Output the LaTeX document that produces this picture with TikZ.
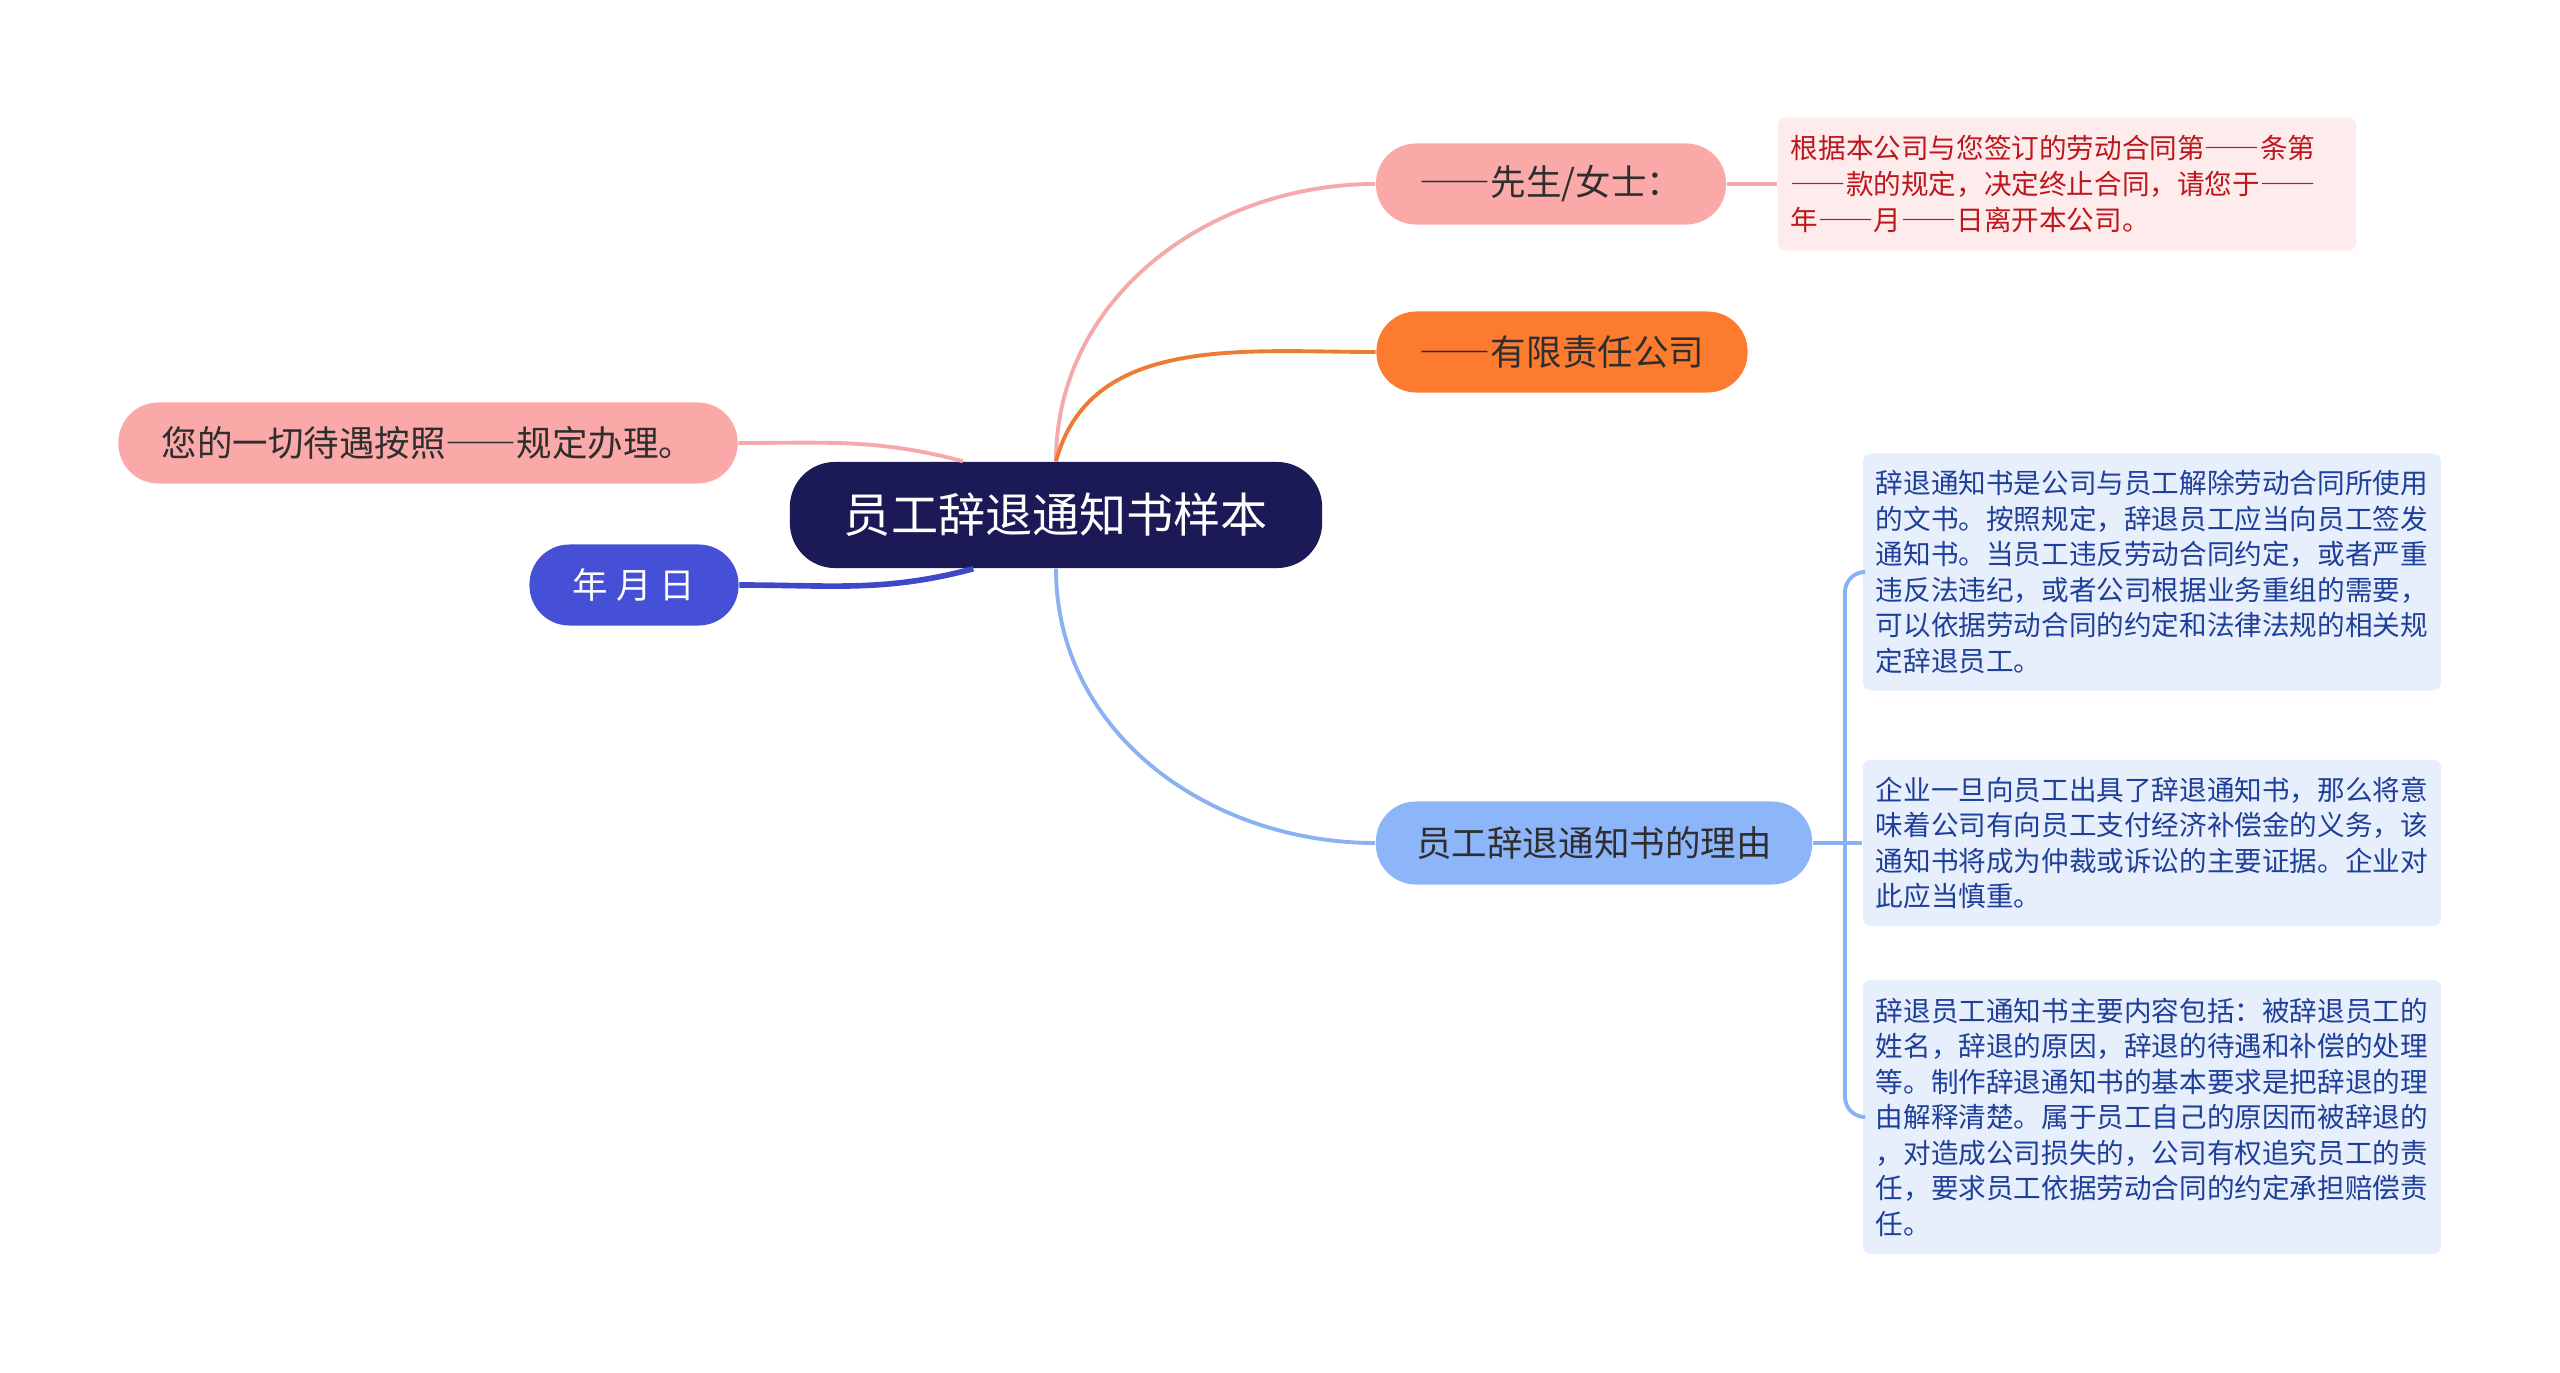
\documentclass[tikz,border=0pt]{standalone}
\usepackage{fontspec}
\newfontfamily\cjk{Noto Sans CJK SC}
\newcommand\fw[1]{{\addfontfeatures{RawFeature=+fwid}#1}}
\usetikzlibrary{positioning,calc}
\definecolor{rootnavy}{HTML}{1B1A57}
\definecolor{pinkfill}{HTML}{FAA9A8}
\definecolor{pinkline}{HTML}{F4AAAA}
\definecolor{orangefill}{HTML}{FD7B2F}
\definecolor{orangeline}{HTML}{EE7A34}
\definecolor{bluefill}{HTML}{8DB5F9}
\definecolor{blueline}{HTML}{8AB2F2}
\definecolor{datefill}{HTML}{4650D7}
\definecolor{dateline}{HTML}{3F48C8}
\definecolor{notepink}{HTML}{FDECEB}
\definecolor{notered}{HTML}{BC171D}
\definecolor{noteblue}{HTML}{E8EFFC}
\definecolor{noteink}{HTML}{1E3F9A}
\definecolor{inkdark}{HTML}{2E2E2E}
\tikzset{
  topic/.style={fill=rootnavy, rounded corners=0.45cm, minimum width=5.32cm,
    minimum height=1.06cm, inner sep=0pt, text=white,
    font=\cjk\fontsize{13.4pt}{16pt}\selectfont},
  branch/.style={rounded corners=0.4cm, minimum height=0.81cm, inner sep=0pt,
    text=inkdark, font=\cjk\fontsize{10.1pt}{12pt}\selectfont},
  % the detail boxes
  note/.style={rounded corners=0.08cm, align=left, text width=5.52cm,
    inner xsep=0.13cm, inner ysep=0pt,
    font=\cjk\fontsize{7.85pt}{10.1pt}\selectfont},
  redbox/.style={note, fill=notepink, text=notered},
  bluebox/.style={note, fill=noteblue, text=noteink},
  link/.style={line width=1.1pt},
}
\begin{document}
\begin{tikzpicture}[x=0.01cm,y=0.01cm]
  \useasboundingbox (0,0) rectangle (2560,-1373);
  % centre and branches
  \node[topic] (root) at (1056,-515) {员工辞退通知书样本};
  \node[branch, fill=pinkfill, minimum width=3.50cm] (sir) at (1551,-184) {\fw{——}先生/女士：};
  \node[branch, fill=orangefill, minimum width=3.71cm] (company) at (1562,-352) {\fw{——}有限责任公司};
  \node[branch, fill=bluefill, minimum width=4.36cm, minimum height=0.83cm] (reason) at (1594,-843) {员工辞退通知书的理由};
  \node[branch, fill=pinkfill, minimum width=6.19cm] (treat) at (428,-443) {您的一切待遇按照\fw{——}规定办理。};
  \node[branch, fill=datefill, text=white, minimum width=2.09cm] (date) at (634,-585) {年 月 日};
  % details
  \node[redbox, minimum height=1.33cm] (clause) at (2067,-184) {根据本公司与您签订的劳动合同第\fw{——}条第\\\fw{——}款的规定，决定终止合同，请您于\fw{——}\\年\fw{——}月\fw{——}日离开本公司。};
  \node[bluebox, minimum height=2.37cm] (whyA) at (2152,-572) {辞退通知书是公司与员工解除劳动合同所使用\\的文书。按照规定，辞退员工应当向员工签发\\通知书。当员工违反劳动合同约定，或者严重\\违反法违纪，或者公司根据业务重组的需要，\\可以依据劳动合同的约定和法律法规的相关规\\定辞退员工。};
  \node[bluebox, minimum height=1.66cm] (whyB) at (2152,-843) {企业一旦向员工出具了辞退通知书，那么将意\\味着公司有向员工支付经济补偿金的义务，该\\通知书将成为仲裁或诉讼的主要证据。企业对\\此应当慎重。};
  \node[bluebox, minimum height=2.74cm] (whyC) at (2152,-1117) {辞退员工通知书主要内容包括：被辞退员工的\\姓名，辞退的原因，辞退的待遇和补偿的处理\\等。制作辞退通知书的基本要求是把辞退的理\\由解释清楚。属于员工自己的原因而被辞退的\\，对造成公司损失的，公司有权追究员工的责\\任，要求员工依据劳动合同的约定承担赔偿责\\任。};
  % links
  \draw[link, pinkline] (root.north) to[out=90,in=180] (sir.west);
  \draw[link, orangeline] (root.north) to[out=75,in=180] (company.west);
  \draw[link, blueline] (root.south) to[out=-90,in=180] (reason.west);
  \draw[link, pinkline] (root.150) to[out=165,in=0] (treat.east);
  \draw[link, dateline, line width=1.6pt] (root.213) to[out=195,in=0] (date.east);
  \draw[link, pinkline] (sir.east) -- (clause.west);
  \coordinate (fork) at (1845,-843);
  \draw[link, blueline] (reason.east) -- (fork) -- (whyB.west);
  \draw[link, blueline, rounded corners=0.2cm] (fork) |- (whyA.west);
  \draw[link, blueline, rounded corners=0.2cm] (fork) |- (whyC.west);
\end{tikzpicture}
\end{document}
